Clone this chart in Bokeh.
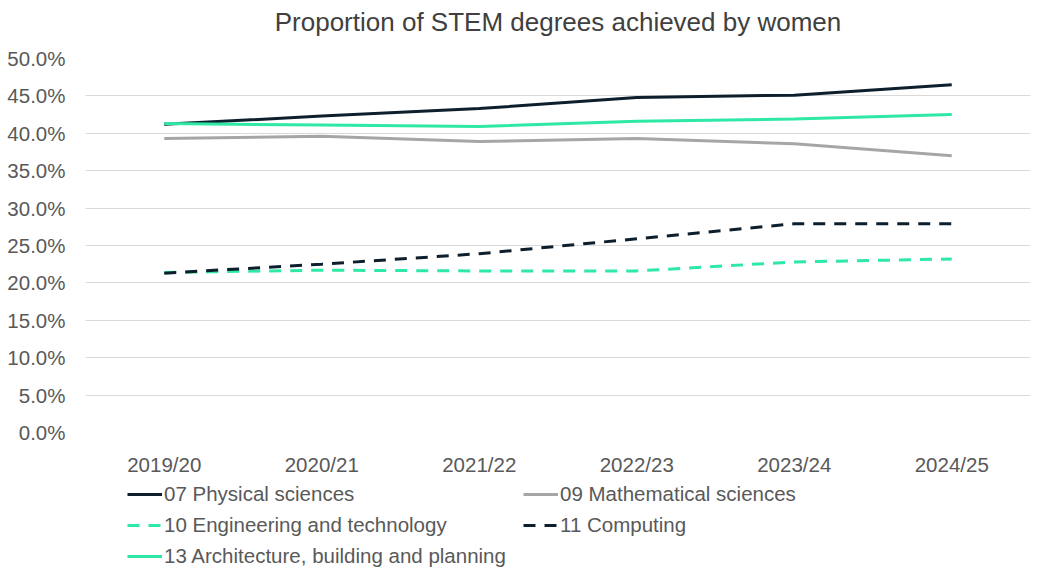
from bokeh.plotting import figure
from bokeh.layouts import column
from bokeh.models import Legend, LegendItem, NumeralTickFormatter, FactorRange, Range1d, FixedTicker, Title
from bokeh.embed import file_html
from bokeh.resources import INLINE

years = ["2019/20", "2020/21", "2021/22", "2022/23", "2023/24", "2024/25"]
physical = [0.412, 0.423, 0.433, 0.448, 0.451, 0.465]
mathematical = [0.393, 0.396, 0.389, 0.393, 0.386, 0.370]
engineering = [0.214, 0.217, 0.216, 0.216, 0.228, 0.232]
computing = [0.213, 0.225, 0.239, 0.259, 0.279, 0.279]
architecture = [0.413, 0.411, 0.409, 0.416, 0.419, 0.425]
y_ticks = [0.0, 0.05, 0.10, 0.15, 0.20, 0.25, 0.30, 0.35, 0.40, 0.45, 0.50]

NAVY = "#0d1f2d"
GREEN = "#2ee8a5"
GRAY = "#a6a6a6"
FONT = "Liberation Sans"
TXT = "#595959"

series = [
    ("07 Physical sciences", physical, NAVY, "solid"),
    ("09 Mathematical sciences", mathematical, GRAY, "solid"),
    ("10 Engineering and technology", engineering, GREEN, "12 9"),
    ("11 Computing", computing, NAVY, "12 9"),
    ("13 Architecture, building and planning", architecture, GREEN, "solid"),
]

p = figure(width=1035, height=478, x_range=FactorRange(*years, range_padding=0),
           y_range=Range1d(0, 0.5), output_backend="svg", toolbar_location=None,
           title="Proportion of STEM degrees achieved by women")
p.min_border_left = 85
p.min_border_right = 5
p.min_border_top = 58
p.min_border_bottom = 45
p.outline_line_color = None

p.title.align = "center"
p.title.vertical_align = "top"
p.title.text_font = FONT
p.title.text_font_size = "26px"
p.title.text_font_style = "normal"
p.title.text_color = "#404040"
p.title.standoff = 12
# small spacer between the title and the plot area
p.add_layout(Title(text=" ", text_font_size="1px", standoff=11), "above")

for name, vals, color, dash in series:
    p.line(years, vals, line_color=color, line_width=3, line_dash=dash)

p.yaxis.ticker = FixedTicker(ticks=y_ticks)
p.yaxis.formatter = NumeralTickFormatter(format="0.0%")
for ax in (p.xaxis[0], p.yaxis[0]):
    ax.axis_line_color = None
    ax.major_tick_line_color = None
    ax.minor_tick_line_color = None
    ax.major_tick_out = 0
    ax.major_label_text_font = FONT
    ax.major_label_text_font_size = "20.5px"
    ax.major_label_text_color = TXT
p.yaxis.major_label_standoff = 20
p.xaxis.major_label_standoff = 20

p.xgrid.grid_line_color = None
p.ygrid.grid_line_color = "#d9d9d9"
p.ygrid.grid_line_width = 1

# legend panel below the chart: same series, drawn outside its visible range
lf = figure(width=1035, height=96, x_range=FactorRange(*years, range_padding=0),
            y_range=Range1d(5, 6), output_backend="svg", toolbar_location=None)
lf.min_border = 0
lf.outline_line_color = None
lf.xaxis.visible = False
lf.yaxis.visible = False
lf.grid.visible = False
swatch = {}
for name, vals, color, dash in series:
    swatch[name] = lf.line(years, vals, line_color=color, line_width=3, line_dash=dash)
order = ["07 Physical sciences", "10 Engineering and technology",
         "13 Architecture, building and planning", "09 Mathematical sciences", "11 Computing"]
legend = Legend(items=[LegendItem(label=n, renderers=[swatch[n]]) for n in order],
                ncols=2, location=(42, 6))
legend.border_line_color = None
legend.background_fill_alpha = 0
legend.padding = 0
legend.margin = 0
legend.spacing = 7
legend.glyph_width = 35
legend.glyph_height = 20
legend.label_height = 20
legend.label_width = 352
legend.label_standoff = 2
legend.label_text_font = FONT
legend.label_text_font_size = "20.5px"
legend.label_text_color = TXT
lf.add_layout(legend, "center")

open("out.html", "w").write(file_html(column(p, lf, spacing=0), INLINE))
